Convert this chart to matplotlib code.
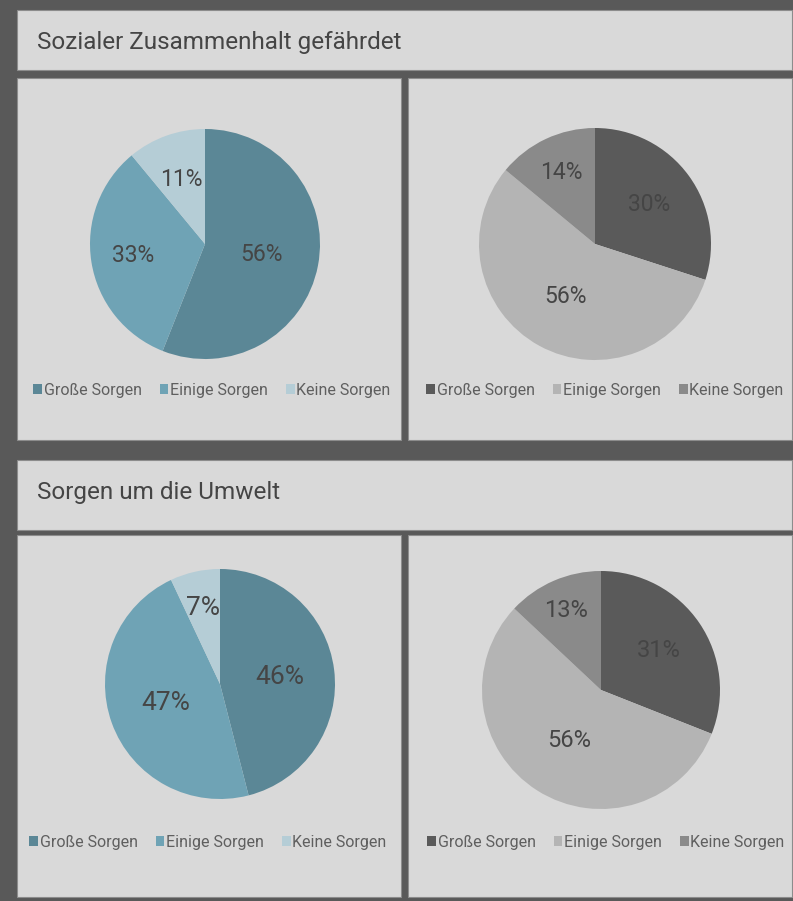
import matplotlib
matplotlib.use("Agg")
import numpy as np
import matplotlib.pyplot as plt
from matplotlib.patches import Rectangle

plt.rcParams['font.family'] = ['Roboto', 'DejaVu Sans']

W, H = 793, 901

titles = ["Sozialer Zusammenhalt gefährdet", "Sorgen um die Umwelt"]
categories = ["Große Sorgen", "Einige Sorgen", "Keine Sorgen"]

social_left = [56, 33, 11]
social_right = [30, 56, 14]
env_left = [46, 47, 7]
env_right = [31, 56, 13]

blue_colors = ['#5b8796', '#6fa3b5', '#b5cdd6']
gray_colors = ['#5a5a5a', '#b4b4b4', '#8a8a8a']


def fbox(x0, y0, x1, y1):
    # pixel box (top-left origin) -> figure fraction
    return [x0 / W, 1 - y1 / H, (x1 - x0) / W, (y1 - y0) / H]


fig = plt.figure(figsize=(W / 100, H / 100), dpi=100)
fig.patch.set_facecolor('#595959')

panels = [(17, 10, 792, 70), (17, 78, 401, 440), (408, 78, 792, 440),
          (17, 460, 792, 530), (17, 535, 401, 897), (408, 535, 792, 897)]
for x0, y0, x1, y1 in panels:
    b = fbox(x0, y0, x1, y1)
    fig.patches.append(Rectangle((b[0], b[1]), b[2], b[3], transform=fig.transFigure,
                                 facecolor='#d9d9d9', edgecolor='#8c8c8c', linewidth=0.8,
                                 zorder=-10))

fig.text(37 / W, 1 - 42 / H, titles[0], fontsize=17.5,
         color='#454545', va='center')
fig.text(37 / W, 1 - 493 / H, titles[1], fontsize=17.5,
         color='#454545', va='center')

# values, colours, centre px, radius px, label size, label distances, legend centre px
charts = [
    (social_left, blue_colors, (205, 244), 115, 16.5, [0.5, 0.63, 0.6], (212, 390)),
    (social_right, gray_colors, (595, 244), 116, 16.5, [0.58, 0.52, 0.68], (605, 390)),
    (env_left, blue_colors, (220, 684), 115, 19, [0.52, 0.5, 0.68], (208, 842)),
    (env_right, gray_colors, (601, 690), 119, 17, [0.59, 0.5, 0.73], (606, 842)),
]

for vals, cols, (cx, cy), r, fs, dists, (lx, ly) in charts:
    ax = fig.add_axes(fbox(cx - r, cy - r, cx + r, cy + r))
    wedges, _, autotexts = ax.pie(vals, colors=cols, startangle=90, counterclock=False,
                                  autopct='%1.0f%%', radius=1,
                                  wedgeprops=dict(linewidth=0))
    for w, t, d in zip(wedges, autotexts, dists):
        ang = np.deg2rad((w.theta1 + w.theta2) / 2)
        t.set_position((d * np.cos(ang), d * np.sin(ang)))
        t.set_fontsize(fs)
        t.set_color('#454545')
    ax.set_xlim(-1, 1)
    ax.set_ylim(-1, 1)
    ax.axis('off')
    leg = ax.legend(wedges, categories, loc='center', bbox_to_anchor=(lx / W, 1 - ly / H),
                    bbox_transform=fig.transFigure, ncol=3, frameon=False,
                    fontsize=11.5, handlelength=0.55, handleheight=0.55,
                    handletextpad=0.12, columnspacing=1.1, borderaxespad=0)
    for t in leg.get_texts():
        t.set_color('#5f5f5f')

fig.savefig('out.png', dpi=100, facecolor=fig.get_facecolor())
